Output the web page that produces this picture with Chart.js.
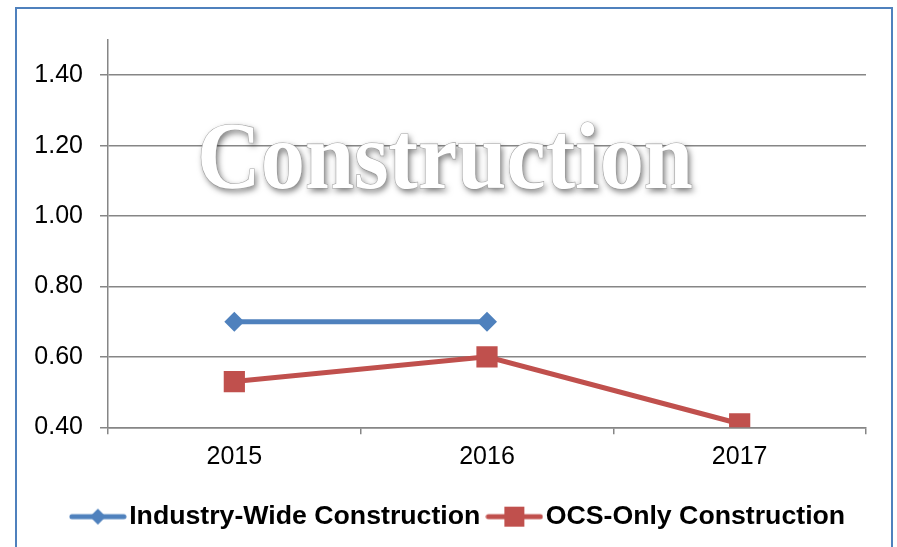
<!DOCTYPE html>
<html>
<head>
<meta charset="utf-8">
<script src="https://cdn.jsdelivr.net/npm/chart.js@4/dist/chart.umd.min.js"></script>
<style>
  html, body { margin: 0; padding: 0; background: #fff; }
  #wrap { position: relative; width: 897px; height: 547px; overflow: hidden; }
  #frame { position: absolute; left: 15px; top: 7px; width: 878px; height: 600px;
           border: 2px solid #4F81BD; box-sizing: border-box; }
  #c { position: absolute; left: 0; top: 0; }
</style>
</head>
<body>
<div id="wrap">
  <div id="frame"></div>
  <canvas id="c" width="897" height="547"></canvas>
</div>
<script>
// chart data
var years = ['2015', '2016', '2017'];
var industryWide = [0.70, 0.70, null];
var ocsOnly = [0.53, 0.60, 0.41];
var yTicks = [0.40, 0.60, 0.80, 1.00, 1.20, 1.40];

var BLUE = '#4F81BD';
var RED = '#C0504D';

// legend swatch: short line with the marker in the middle
function make_swatch(color, shape)
{
   var c = document.createElement('canvas');
   c.width = 58;
   c.height = 22;
   var g = c.getContext('2d');
   g.strokeStyle = color;
   g.lineWidth = 5;
   g.lineCap = 'round';
   g.beginPath();
   g.moveTo(3, 11);
   g.lineTo(55, 11);
   g.stroke();
   g.fillStyle = color;
   if (shape === 'diamond') {
       g.beginPath();
       g.moveTo(29, 3);
       g.lineTo(37, 11);
       g.lineTo(29, 19);
       g.lineTo(21, 11);
       g.closePath();
       g.fill();
   } else {
       g.fillRect(19, 1, 20, 20);
   }
   return c;
}

var titlePlugin = {
   id: 'bigTitle',
   afterLayout: function (chart) {
       // Excel centres the legend a bit further right than Chart.js does
       if (chart.legend) chart.legend.left += 59;
   },
   afterDraw: function (chart) {
       var ctx = chart.ctx;
       var text = 'Construction';
       ctx.save();
       ctx.font = 'bold 96px "Liberation Serif"';
       var w = ctx.measureText(text).width;
       var sx = 496 / w;
       ctx.translate(445, 188);
       ctx.scale(sx, 1);
       ctx.textAlign = 'center';
       ctx.textBaseline = 'alphabetic';
       ctx.shadowColor = 'rgba(0,0,0,0.55)';
       ctx.shadowBlur = 6;
       ctx.shadowOffsetX = 2;
       ctx.shadowOffsetY = 3;
       ctx.fillStyle = '#ffffff';
       ctx.fillText(text, 0, 0);
       ctx.shadowColor = 'transparent';
       ctx.lineWidth = 1.2;
       ctx.strokeStyle = 'rgba(150,150,150,0.85)';
       ctx.strokeText(text, 0, 0);
       ctx.fillText(text, 0, 0);
       ctx.restore();
   }
};

var ctx = document.getElementById('c').getContext('2d');
var myChart = new Chart(ctx, {
   type: 'line',
   data: {
       labels: years,
       datasets: [{
           label: 'Industry-Wide Construction',
           data: industryWide,
           borderColor: BLUE,
           backgroundColor: BLUE,
           borderWidth: 5,
           pointStyle: 'rectRot',
           pointRadius: 10,
           pointBorderWidth: 0,
           spanGaps: false
       }, {
           label: 'OCS-Only Construction',
           data: ocsOnly,
           borderColor: RED,
           backgroundColor: RED,
           borderWidth: 5,
           pointStyle: 'rect',
           pointRadius: 15,
           pointBorderWidth: 0
       }]
   },
   options: {
       responsive: false,
       animation: false,
       layout: { padding: { left: 0, right: 31, top: 40, bottom: 7 } },
       plugins: {
           tooltip: { enabled: false },
           legend: {
               position: 'bottom',
               labels: {
                   usePointStyle: true,
                   pointStyleWidth: 36,
                   padding: 16,
                   color: '#000',
                   font: { family: '"Liberation Sans", Arial', size: 26.7, weight: 'bold' },
                   generateLabels: function (chart) {
                       return [
                           { text: 'Industry-Wide Construction', pointStyle: make_swatch(BLUE, 'diamond'),
                             fillStyle: BLUE, strokeStyle: BLUE, lineWidth: 0, datasetIndex: 0, fontColor: '#000' },
                           { text: 'OCS-Only Construction', pointStyle: make_swatch(RED, 'square'),
                             fillStyle: RED, strokeStyle: RED, lineWidth: 0, datasetIndex: 1, fontColor: '#000' }
                       ];
                   }
               }
           }
       },
       scales: {
           x: {
               offset: true,
               grid: { offset: true, drawOnChartArea: false, drawTicks: true, tickLength: 7, color: '#868686', lineWidth: 1.5 },
               border: { color: '#868686', width: 1.5 },
               ticks: { color: '#000', padding: 8, font: { family: '"Liberation Sans", Arial', size: 25 } },
               afterFit: function (s) { s.height = 60; }
           },
           y: {
               min: 0.4,
               max: 1.5,
               afterBuildTicks: function (s) {
                   s.ticks = yTicks.map(function (v) { return { value: v }; });
               },
               grid: { color: '#868686', lineWidth: 1.5, tickLength: 8 },
               border: { color: '#868686', width: 1.5 },
               ticks: {
                   color: '#000',
                   padding: 17,
                   font: { family: '"Liberation Sans", Arial', size: 25 },
                   callback: function (v) { return Number(v).toFixed(2); }
               },
               afterFit: function (s) { s.width = 108; }
           }
       }
   },
   plugins: [titlePlugin]
});
</script>
</body>
</html>
